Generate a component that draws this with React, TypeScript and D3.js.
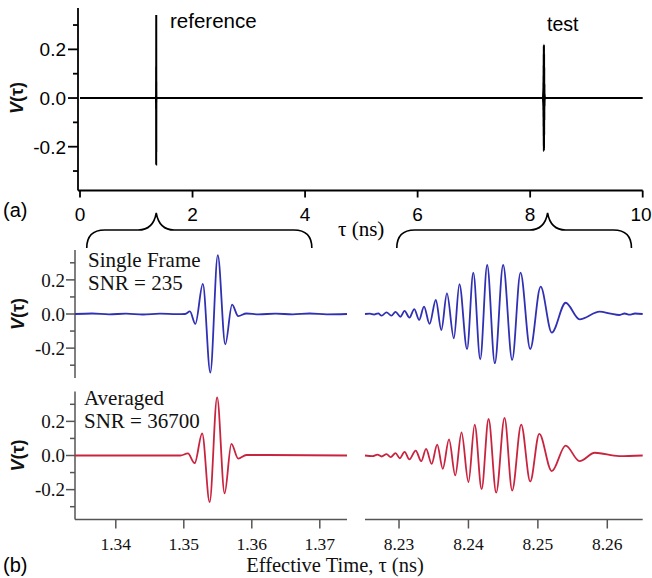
import React from "react";
import * as d3 from "d3";

// ---------- DATA ----------
// Reference pulse, single frame (blue), time in ns, V in arbitrary units
const refSingleT = [1.334, 1.3365, 1.339, 1.3415, 1.344, 1.3465, 1.349, 1.3502, 1.3509, 1.3517, 1.3528, 1.3539, 1.355, 1.3561, 1.3571, 1.358, 1.3592, 1.361, 1.3635, 1.366, 1.3685, 1.371, 1.374];
const refSingleV = [0, 0.003, -0.002, 0.002, -0.003, 0.002, -0.001, 0.0, 0.015, -0.058, 0.176, -0.343, 0.345, -0.178, 0.055, -0.012, 0.003, -0.002, 0.002, -0.002, 0.003, -0.002, 0];

// Reference pulse, averaged (red)
const refAvgT = [1.334, 1.3495, 1.3506, 1.3516, 1.3527, 1.3538, 1.3549, 1.356, 1.357, 1.358, 1.3592, 1.374];
const refAvgV = [0, 0, 0.012, -0.045, 0.13, -0.273, 0.341, -0.222, 0.068, -0.018, 0.003, 0];

// Test pulse, single frame (blue)
const testSingleT = [8.2251, 8.2258, 8.2264, 8.227, 8.2275, 8.2282, 8.2289, 8.2295, 8.2302, 8.2308, 8.2315, 8.2322, 8.2329, 8.2336, 8.2344, 8.2353, 8.2361, 8.2369, 8.2379, 8.2387, 8.2398, 8.2407, 8.2417, 8.2427, 8.2438, 8.245, 8.2463, 8.2475, 8.2489, 8.2504, 8.252, 8.254, 8.256, 8.2589, 8.2605, 8.2617, 8.2625, 8.2632, 8.264, 8.2651];
const testSingleV = [0, 0.002, -0.003, 0.004, -0.01, 0.01, -0.01, 0.012, -0.016, 0.018, -0.021, 0.029, -0.035, 0.043, -0.058, 0.082, -0.094, 0.121, -0.142, 0.175, -0.206, 0.242, -0.265, 0.287, -0.288, 0.287, -0.269, 0.242, -0.205, 0.16, -0.109, 0.066, -0.031, 0.014, 0.002, -0.006, 0.003, -0.004, 0.003, 0];

// Test pulse, averaged (red)
const testAvgT = [8.2251, 8.2262, 8.2269, 8.2275, 8.2282, 8.2288, 8.2295, 8.2301, 8.2308, 8.2315, 8.2324, 8.2332, 8.2339, 8.2347, 8.2355, 8.2363, 8.2372, 8.2381, 8.239, 8.24, 8.2409, 8.2419, 8.2429, 8.244, 8.2452, 8.2463, 8.2476, 8.2489, 8.2502, 8.252, 8.254, 8.256, 8.2582, 8.2617, 8.2651];
const testAvgV = [0, -0.004, 0.005, -0.006, 0.008, -0.01, 0.014, -0.016, 0.021, -0.023, 0.029, -0.033, 0.039, -0.049, 0.064, -0.078, 0.094, -0.117, 0.136, -0.156, 0.181, -0.197, 0.214, -0.218, 0.22, -0.205, 0.181, -0.152, 0.127, -0.092, 0.058, -0.033, 0.016, -0.004, 0];

// Full window endpoints (top panel)
const fullStartT = 0;
const fullEndT = 10;

// Ticks
const topXTicks = [0, 2, 4, 6, 8, 10];
const yMajorTicks = [-0.2, 0.0, 0.2];
const yMinorTicks = [-0.3, -0.1, 0.1, 0.3];
const leftXTicks = [1.34, 1.35, 1.36, 1.37];
const rightXTicks = [8.23, 8.24, 8.25, 8.26];

// Labels
const refLabel = "reference";
const testLabel = "test";
const singleLabel = ["Single Frame", "SNR = 235"];
const avgLabel = ["Averaged", "SNR = 36700"];
const braceLeft = [0.12, 1.355, 4.12];
const braceRight = [5.63, 8.31, 9.8];

// ---------- LAYOUT ----------
const W = 652;
const H = 578;
const SANS = "'Liberation Sans', Arial, Helvetica, sans-serif";
const SERIF = "'Liberation Serif', 'Times New Roman', Times, serif";
const BLUE = "#3030b4";
const RED = "#c9243f";
const AXIS_GRAY = "#555";

const zip = (t: number[], v: number[]) => t.map((d, i) => [d, v[i]] as [number, number]);

export default function App() {
  // top panel
  const xTop = d3.scaleLinear().domain([0, 10]).range([80, 642.7]);
  const yTop = d3.scaleLinear().domain([-0.38, 0.37]).range([190.5, 8]);
  const topAxisX = 78;

  // bottom panels
  const xL = d3.scaleLinear().domain([1.334, 1.374]).range([75, 347]);
  const xR = d3.scaleLinear().domain([8.2251, 8.2651]).range([365, 642.7]);
  const yB1 = d3.scaleLinear().domain([-0.375, 0.375]).range([378, 250]);
  const yB2 = d3.scaleLinear().domain([-0.375, 0.375]).range([519.5, 391.5]);
  const bAxisX = 75;
  const bBottom = 519.5;

  const topData: [number, number][] = [
    [fullStartT, 0],
    ...zip(refAvgT, refAvgV),
    ...zip(testAvgT, testAvgV),
    [fullEndT, 0],
  ];

  const mkLine = (xs: d3.ScaleLinear<number, number>, ys: d3.ScaleLinear<number, number>) =>
    d3
      .line<[number, number]>()
      .x((d) => xs(d[0]))
      .y((d) => ys(d[1]))
      .curve(d3.curveMonotoneX);

  const topPath = mkLine(xTop, yTop)(topData) || "";
  const b1L = mkLine(xL, yB1)(zip(refSingleT, refSingleV)) || "";
  const b1R = mkLine(xR, yB1)(zip(testSingleT, testSingleV)) || "";
  const b2L = mkLine(xL, yB2)(zip(refAvgT, refAvgV)) || "";
  const b2R = mkLine(xR, yB2)(zip(testAvgT, testAvgV)) || "";

  const brace = (b: number[]) => {
    const x0 = xTop(b[0]);
    const xm = xTop(b[1]);
    const x1 = xTop(b[2]);
    const yTip = 213;
    const yMid = 230;
    const yEnd = 248;
    const p = d3.path();
    p.moveTo(x0, yEnd);
    p.quadraticCurveTo(x0, yMid, x0 + 18, yMid);
    p.lineTo(xm - 18, yMid);
    p.quadraticCurveTo(xm - 3, yMid, xm, yTip);
    p.quadraticCurveTo(xm + 3, yMid, xm + 18, yMid);
    p.lineTo(x1 - 18, yMid);
    p.quadraticCurveTo(x1, yMid, x1, yEnd);
    return p.toString();
  };

  const fmtY = (v: number) => v.toFixed(1);

  const yAxisBottom = (ys: d3.ScaleLinear<number, number>, key: string) => (
    <g key={key}>
      <line x1={bAxisX} x2={bAxisX} y1={ys.range()[1]} y2={ys.range()[0]} stroke={AXIS_GRAY} strokeWidth={1.5} />
      {yMajorTicks.map((t) => (
        <g key={"M" + t}>
          <line x1={bAxisX - 9} x2={bAxisX} y1={ys(t)} y2={ys(t)} stroke={AXIS_GRAY} strokeWidth={1.5} />
          <text x={bAxisX - 10} y={ys(t)} dy="0.35em" textAnchor="end" fontFamily={SERIF} fontSize={19} fill="#111">
            {fmtY(t)}
          </text>
        </g>
      ))}
      {yMinorTicks.map((t) => (
        <line key={"m" + t} x1={bAxisX - 5} x2={bAxisX} y1={ys(t)} y2={ys(t)} stroke={AXIS_GRAY} strokeWidth={1.5} />
      ))}
      <text
        transform={`translate(24,${ys(0)}) rotate(-90)`}
        textAnchor="middle"
        fontFamily={SANS}
        fontSize={18}
        fontWeight="bold"
        fill="#111"
      >
        <tspan fontStyle="italic">V</tspan>(τ)
      </text>
    </g>
  );

  return (
    <svg width={W} height={H} style={{ position: "absolute", left: 0, top: 0, background: "#fff" }}>
      <rect width={W} height={H} fill="#fff" />
      {/* ---------- TOP PANEL (a) ---------- */}
      <line x1={topAxisX} x2={topAxisX} y1={yTop.range()[1]} y2={yTop.range()[0]} stroke="#000" strokeWidth={1.8} />
      <line x1={topAxisX} x2={xTop(10)} y1={yTop.range()[0]} y2={yTop.range()[0]} stroke="#000" strokeWidth={1.8} />
      {yMajorTicks.map((t) => (
        <g key={"tM" + t}>
          <line x1={topAxisX - 10} x2={topAxisX} y1={yTop(t)} y2={yTop(t)} stroke="#000" strokeWidth={1.8} />
          <text x={topAxisX - 12} y={yTop(t)} dy="0.36em" textAnchor="end" fontFamily={SANS} fontSize={19} fill="#000">
            {fmtY(t)}
          </text>
        </g>
      ))}
      {yMinorTicks.map((t) => (
        <line key={"tm" + t} x1={topAxisX - 5} x2={topAxisX} y1={yTop(t)} y2={yTop(t)} stroke="#000" strokeWidth={1.8} />
      ))}
      {topXTicks.map((t) => (
        <g key={"tx" + t}>
          <line x1={xTop(t)} x2={xTop(t)} y1={yTop.range()[0]} y2={yTop.range()[0] + 7} stroke="#000" strokeWidth={1.8} />
          <text x={Math.min(xTop(t), 641)} y={221} textAnchor="middle" fontFamily={SANS} fontSize={19} fill="#000">
            {t}
          </text>
        </g>
      ))}
      <path d={topPath} fill="none" stroke="#000" strokeWidth={2} />
      <text transform={`translate(23,${yTop(0)}) rotate(-90)`} textAnchor="middle" fontFamily={SANS} fontSize={18} fontWeight="bold" fill="#111">
        <tspan fontStyle="italic">V</tspan>(τ)
      </text>
      <text x={170} y={28} fontFamily={SANS} fontSize={20.5} fill="#000">{refLabel}</text>
      <text x={547} y={31} fontFamily={SANS} fontSize={19.5} fill="#000">{testLabel}</text>
      <text x={3} y={217} fontFamily={SANS} fontSize={20} fill="#000">(a)</text>
      <text x={338} y={236} fontFamily={SERIF} fontSize={21} fill="#000">τ (ns)</text>

      {/* braces */}
      <path d={brace(braceLeft)} fill="none" stroke="#000" strokeWidth={1.6} />
      <path d={brace(braceRight)} fill="none" stroke="#000" strokeWidth={1.6} />

      {/* ---------- BOTTOM PANELS (b) ---------- */}
      {yAxisBottom(yB1, "b1")}
      {yAxisBottom(yB2, "b2")}

      {/* bottom x axes */}
      <line x1={bAxisX} x2={xL.range()[1]} y1={bBottom} y2={bBottom} stroke={AXIS_GRAY} strokeWidth={1.5} />
      <line x1={xR.range()[0]} x2={xR.range()[1]} y1={bBottom} y2={bBottom} stroke={AXIS_GRAY} strokeWidth={1.5} />
      {leftXTicks.map((t) => (
        <g key={"lx" + t}>
          <line x1={xL(t)} x2={xL(t)} y1={bBottom} y2={bBottom + 9} stroke={AXIS_GRAY} strokeWidth={1.5} />
          <text x={xL(t)} y={550} textAnchor="middle" fontFamily={SERIF} fontSize={17.5} fill="#111">
            {t.toFixed(2)}
          </text>
        </g>
      ))}
      {rightXTicks.map((t) => (
        <g key={"rx" + t}>
          <line x1={xR(t)} x2={xR(t)} y1={bBottom} y2={bBottom + 9} stroke={AXIS_GRAY} strokeWidth={1.5} />
          <text x={xR(t)} y={550} textAnchor="middle" fontFamily={SERIF} fontSize={17.5} fill="#111">
            {t.toFixed(2)}
          </text>
        </g>
      ))}

      <path d={b1L} fill="none" stroke={BLUE} strokeWidth={1.8} />
      <path d={b1R} fill="none" stroke={BLUE} strokeWidth={1.8} />
      <path d={b2L} fill="none" stroke={RED} strokeWidth={1.8} />
      <path d={b2R} fill="none" stroke={RED} strokeWidth={1.8} />

      <text x={88} y={267} fontFamily={SERIF} fontSize={21} fill="#111">{singleLabel[0]}</text>
      <text x={88} y={290} fontFamily={SERIF} fontSize={21} fill="#111">{singleLabel[1]}</text>
      <text x={84} y={405} fontFamily={SERIF} fontSize={21} fill="#111">{avgLabel[0]}</text>
      <text x={84} y={428} fontFamily={SERIF} fontSize={21} fill="#111">{avgLabel[1]}</text>

      <text x={335} y={572} textAnchor="middle" fontFamily={SERIF} fontSize={20.5} fill="#111">
        Effective Time, τ (ns)
      </text>
      <text x={3} y={572} fontFamily={SANS} fontSize={20} fill="#000">(b)</text>
    </svg>
  );
}
